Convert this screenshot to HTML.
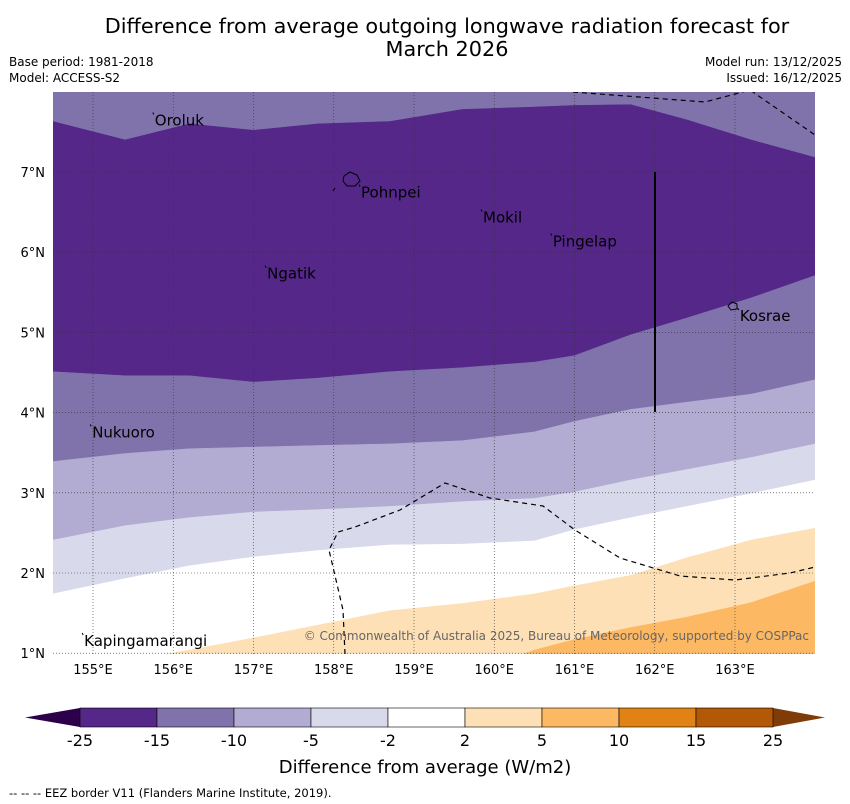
<!DOCTYPE html>
<html><head><meta charset="utf-8"><style>
body{margin:0;background:#fff;}
svg{display:block;font-family:"DejaVu Sans","Liberation Sans",sans-serif;}
</style></head><body>
<svg id="chart" width="850" height="804" viewBox="0 0 850 804">
<text x="447" y="33" text-anchor="middle" font-size="20.8">Difference from average outgoing longwave radiation forecast for</text>
<text x="447" y="56" text-anchor="middle" font-size="20.8">March 2026</text>
<text x="9" y="66" font-size="12">Base period: 1981-2018</text>
<text x="9" y="82" font-size="12">Model: ACCESS-S2</text>
<text x="842" y="66" font-size="12" text-anchor="end">Model run: 13/12/2025</text>
<text x="842" y="82" font-size="12" text-anchor="end">Issued: 16/12/2025</text>
<defs><clipPath id="mapclip"><rect x="53" y="92" width="762" height="562"/></clipPath></defs>
<g id="map" clip-path="url(#mapclip)"></g>
<g id="axes"></g>
<g id="cbar"></g>
<text x="425" y="773" text-anchor="middle" font-size="18">Difference from average (W/m2)</text>
<text x="9" y="797" font-size="11.5">--  --  -- EEZ border V11 (Flanders Marine Institute, 2019).</text>
</svg>
<script>
const lons=[154.5,155.4,156.2,157.0,157.8,158.7,159.6,160.5,161.0,161.7,162.4,163.2,164.0];
const bnd_m15_top=[7.63,7.40,7.60,7.52,7.60,7.63,7.78,7.81,7.83,7.84,7.65,7.40,7.18];
const bnd_m15=[4.51,4.46,4.46,4.38,4.43,4.51,4.56,4.63,4.71,4.97,5.18,5.43,5.71];
const bnd_m10=[3.39,3.49,3.55,3.57,3.59,3.61,3.65,3.76,3.89,4.04,4.13,4.23,4.41];
const bnd_m5=[2.41,2.59,2.69,2.76,2.79,2.83,2.89,2.93,3.01,3.16,3.29,3.44,3.61];
const bnd_m2=[1.74,1.93,2.09,2.20,2.28,2.35,2.36,2.40,2.54,2.69,2.83,2.99,3.16];
const bnd_p2=[0.70,0.90,1.04,1.19,1.35,1.53,1.62,1.74,1.84,1.97,2.19,2.41,2.56];
const bnd_p5=[0.70,0.70,0.70,0.70,0.70,0.70,0.70,1.04,1.17,1.32,1.45,1.63,1.90];
const levels=["-25","-15","-10","-5","-2","2","5","10","15","25"];
const colors=["#542788","#8073ac","#b2abd2","#d8daeb","#ffffff","#fee0b6","#fdb863","#e08214","#b35806"];
const lonTicks=[155,156,157,158,159,160,161,162,163];
const latTicks=[1,2,3,4,5,6,7];
const places=[["Oroluk",155.77,7.58],["Pohnpei",158.34,6.68],["Mokil",159.86,6.37],["Pingelap",160.73,6.07],["Ngatik",157.17,5.67],["Kosrae",163.06,5.14],["Nukuoro",154.99,3.69],["Kapingamarangi",154.89,1.09]];
const NS="http://www.w3.org/2000/svg";
const X=l=>93+(l-155)*80.25, Y=t=>172+(7-t)*80.2;
function mk(tag,attrs,parent){const e=document.createElementNS(NS,tag);for(const k in attrs)e.setAttribute(k,attrs[k]);parent.appendChild(e);return e;}
const map=document.getElementById('map');
const bg=mk('rect',{x:53,y:92,width:762,height:562,fill:"#8073ac"},map);


const bands=[[bnd_m15_top,"#542788","band-minus25-minus15"],[bnd_m15,"#8073ac","band-minus15-minus10"],[bnd_m10,"#b2abd2","band-minus10-minus5"],[bnd_m5,"#d8daeb","band-minus5-minus2"],[bnd_m2,"#ffffff","band-minus2-plus2"],[bnd_p2,"#fee0b6","band-plus2-plus5"],[bnd_p5,"#fdb863","band-plus5-plus10"]];
bands.forEach(([b,c,n])=>{
  let d="M"+lons.map((l,i)=>X(l)+","+Y(b[i])).join(" L")+" L815,700 L53,700 Z";
  const p=mk('path',{d:d,fill:c,stroke:c,"stroke-width":0.5},map);
  
  
});
lonTicks.forEach(l=>{const g=mk('line',{x1:X(l),x2:X(l),y1:92,y2:654,stroke:"#333","stroke-width":0.6,"stroke-dasharray":"1,2"},map);
});
latTicks.forEach(t=>{const g=mk('line',{x1:53,x2:815,y1:Y(t),y2:Y(t),stroke:"#333","stroke-width":0.6,"stroke-dasharray":"1,2"},map);
});
const e1=mk('path',{d:"M573,92 L705,102 L750,90 L815,135",fill:"none",stroke:"#000","stroke-width":1.2,"stroke-dasharray":"5,4"},map);

const e2=mk('path',{d:"M345,654 L343,610 L329,550 L338,532 L355,527 L400,510 L445,483 L490,498 L543,506 L575,530 L620,558 L680,576 L735,580 L790,573 L815,567",fill:"none",stroke:"#000","stroke-width":1.2,"stroke-dasharray":"5,4"},map);

const vl=mk('line',{x1:655,x2:655,y1:172,y2:412,stroke:"#000","stroke-width":2},map);

const pi=mk('path',{d:"M344,176 l6,-4 l7,3 l3,6 l-5,5 l-8,0 l-4,-5 Z M333,191 l2,-3",fill:"none",stroke:"#000","stroke-width":1},map);

const ki=mk('path',{d:"M728,306 l4,-4 l5,2 l0,5 l-6,1 Z",fill:"none",stroke:"#000","stroke-width":1},map);

places.forEach(([n,lo,la])=>{const t=mk('text',{x:X(lo),y:Y(la),"font-size":15,fill:"#000"},map);t.textContent=n;

const d=mk('line',{x1:X(lo)-2,y1:Y(la)-13,x2:X(lo)-1,y2:Y(la)-11,stroke:"#000","stroke-width":1},map);});
const cp=mk('text',{x:809,y:640,"text-anchor":"end","font-size":12,fill:"#666"},map);cp.textContent="© Commonwealth of Australia 2025, Bureau of Meteorology, supported by COSPPac";

const ax=document.getElementById('axes');
lonTicks.forEach(l=>{const t=mk('text',{x:X(l),y:674,"text-anchor":"middle","font-size":13},ax);t.textContent=l+"°E";
});
latTicks.forEach(v=>{const t=mk('text',{x:45,y:Y(v)+5,"text-anchor":"end","font-size":13},ax);t.textContent=v+"°N";
});
const cb=document.getElementById('cbar');
const cx0=80,cw=77,cy=708,ch=19;
const lt=mk('polygon',{points:`25,${cy+ch/2} ${cx0},${cy} ${cx0},${cy+ch}`,fill:"#2d004b"},cb);

const rt=mk('polygon',{points:`825,${cy+ch/2} ${cx0+9*cw},${cy} ${cx0+9*cw},${cy+ch}`,fill:"#7f3b08"},cb);

colors.forEach((c,i)=>{const r=mk('rect',{x:cx0+i*cw,y:cy,width:cw,height:ch,fill:c,stroke:"#000","stroke-width":0.6},cb);
});
levels.forEach((v,i)=>{const t=mk('text',{x:cx0+i*cw,y:746,"text-anchor":"middle","font-size":16},cb);t.textContent=v;
});
</script>
</body></html>
